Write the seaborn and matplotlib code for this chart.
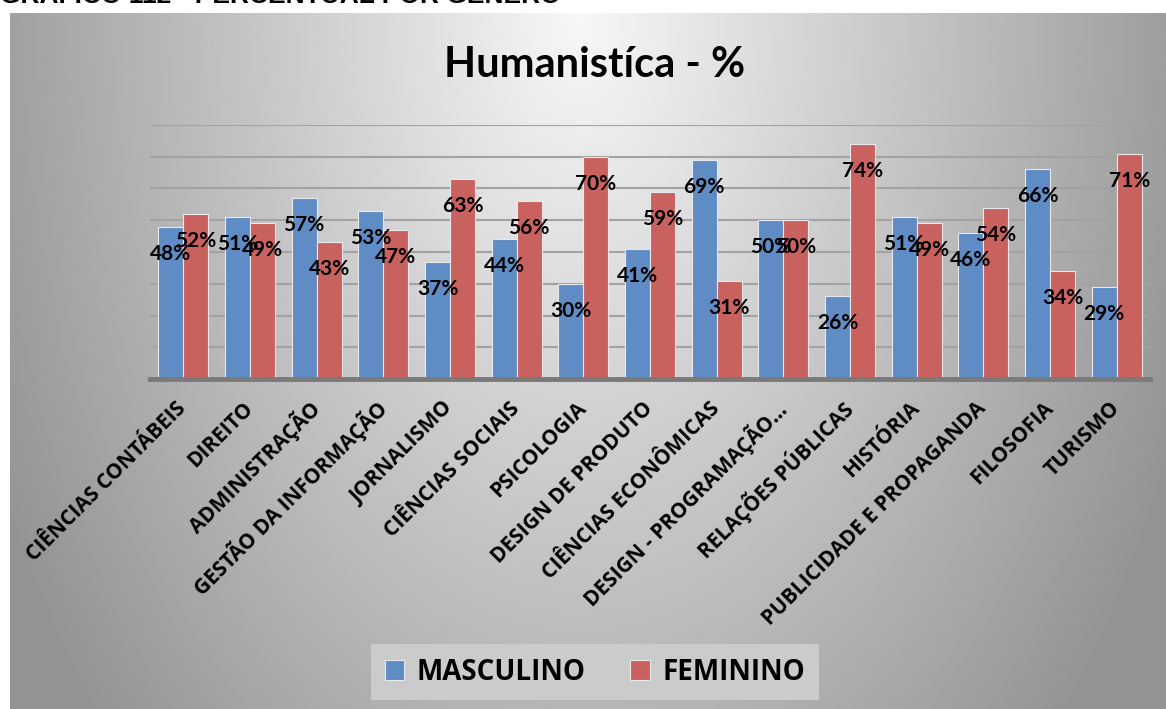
import numpy as np
import pandas as pd
import matplotlib.pyplot as plt
import seaborn as sns

# dados do gráfico (percentual por gênero)
cursos = ['CIÊNCIAS CONTÁBEIS', 'DIREITO', 'ADMINISTRAÇÃO', 'GESTÃO DA INFORMAÇÃO',
          'JORNALISMO', 'CIÊNCIAS SOCIAIS', 'PSICOLOGIA', 'DESIGN DE PRODUTO',
          'CIÊNCIAS ECONÔMICAS', 'DESIGN - PROGRAMAÇÃO…', 'RELAÇÕES PÚBLICAS',
          'HISTÓRIA', 'PUBLICIDADE E PROPAGANDA', 'FILOSOFIA', 'TURISMO']
masculino = [48, 51, 57, 53, 37, 44, 30, 41, 69, 50, 26, 51, 46, 66, 29]
feminino = [52, 49, 43, 47, 63, 56, 70, 59, 31, 50, 74, 49, 54, 34, 71]
generos = ['MASCULINO', 'FEMININO']
cores = ['#5f8cc4', '#c9625f']

df = pd.DataFrame({
    'Curso': cursos * 2,
    'Gênero': [generos[0]] * len(cursos) + [generos[1]] * len(cursos),
    'Percentual': masculino + feminino,
})

sns.set_style('white')
plt.rcParams['text.color'] = 'black'
plt.rcParams['xtick.color'] = 'black'
W, H = 1166, 709
fig = plt.figure(figsize=(W / 100, H / 100), dpi=100)
fig.patch.set_facecolor('white')

# fundo em degradê da área do gráfico
bg = fig.add_axes([10 / W, 0, 1 - 10 / W, 1 - 13 / H], zorder=0)
xx, yy = np.meshgrid(np.linspace(10, W, 400), np.linspace(13, H, 250))
d = np.sqrt(((xx - 580) / 620) ** 2 + ((yy - 10) / 1000) ** 2)
v = np.clip(0.97 - 0.37 * d, 0.58, 1)
bg.imshow(v, cmap='gray', vmin=0, vmax=1, aspect='auto', extent=[0, 1, 0, 1])
bg.axis('off')

# título de cima (cortado na imagem original)
fig.text(0.0, 1 - 3 / H, 'GRÁFICO 112 - PERCENTUAL POR GÊNERO', fontsize=19,
         fontweight='bold', family='Liberation Sans', va='baseline', ha='left')

ax = fig.add_axes([150 / W, (H - 379) / H, 1000 / W, 254 / H], zorder=1)
ax.patch.set_alpha(0)
sns.barplot(data=df, x='Curso', y='Percentual', hue='Gênero', palette=cores,
            width=0.75, saturation=1, edgecolor='#e8e8f0', linewidth=0.8,
            ax=ax, legend=False)

ax.set_ylim(0, 80)
ax.set_xlim(-0.5, len(cursos) - 0.5)
ax.set_yticks(np.arange(10, 81, 10))
ax.set_yticklabels([])
ax.tick_params(axis='y', length=0)
ax.tick_params(axis='x', length=0, pad=19)
ax.yaxis.grid(True, color='#a2a2a2', linewidth=1.5)
ax.set_axisbelow(True)
for s in ['top', 'right', 'left']:
    ax.spines[s].set_visible(False)
ax.spines['bottom'].set_color('#7a7a7a')
ax.spines['bottom'].set_linewidth(3.5)
ax.set_xlabel('')
ax.set_ylabel('')
ax.set_xticks(range(len(cursos)))
ax.set_xticklabels(cursos, rotation=45, ha='right', va='center',
                   rotation_mode='anchor', fontsize=15, fontweight='bold',
                   family='Open Sans', color='black')

# rótulos de dados
for cont, vals in zip(ax.containers, [masculino, feminino]):
    for bar, val in zip(cont, vals):
        ax.annotate(f'{val}%', (bar.get_x() + bar.get_width() / 2, bar.get_height()),
                    xytext=(0, -27), textcoords='offset pixels', ha='center',
                    va='center', fontsize=15, fontweight='bold', family='Lato',
                    color='black', zorder=5)

fig.text(595 / W, 1 - 65 / H, 'Humanistíca - %', ha='center', va='center',
         fontsize=30, fontweight='bold', family='Lato', color='black')

# legenda
handles = [plt.Rectangle((0, 0), 1, 1, facecolor=c, edgecolor='#e8e8f0', lw=0.8)
           for c in cores]
leg = fig.legend(handles, generos, loc='center', bbox_to_anchor=(595 / W, 1 - 672 / H),
                 ncol=2, frameon=True, fancybox=False, handlelength=0.7,
                 handleheight=0.7, handletextpad=0.45, columnspacing=1.6,
                 borderpad=0.5, prop={'family': 'Open Sans', 'weight': 'bold', 'size': 20})
leg.get_frame().set_facecolor('#cbcbcb')
leg.get_frame().set_edgecolor('none')
leg.get_frame().set_alpha(1)
for t in leg.get_texts():
    t.set_color('black')

fig.savefig('out.png', dpi=100)
